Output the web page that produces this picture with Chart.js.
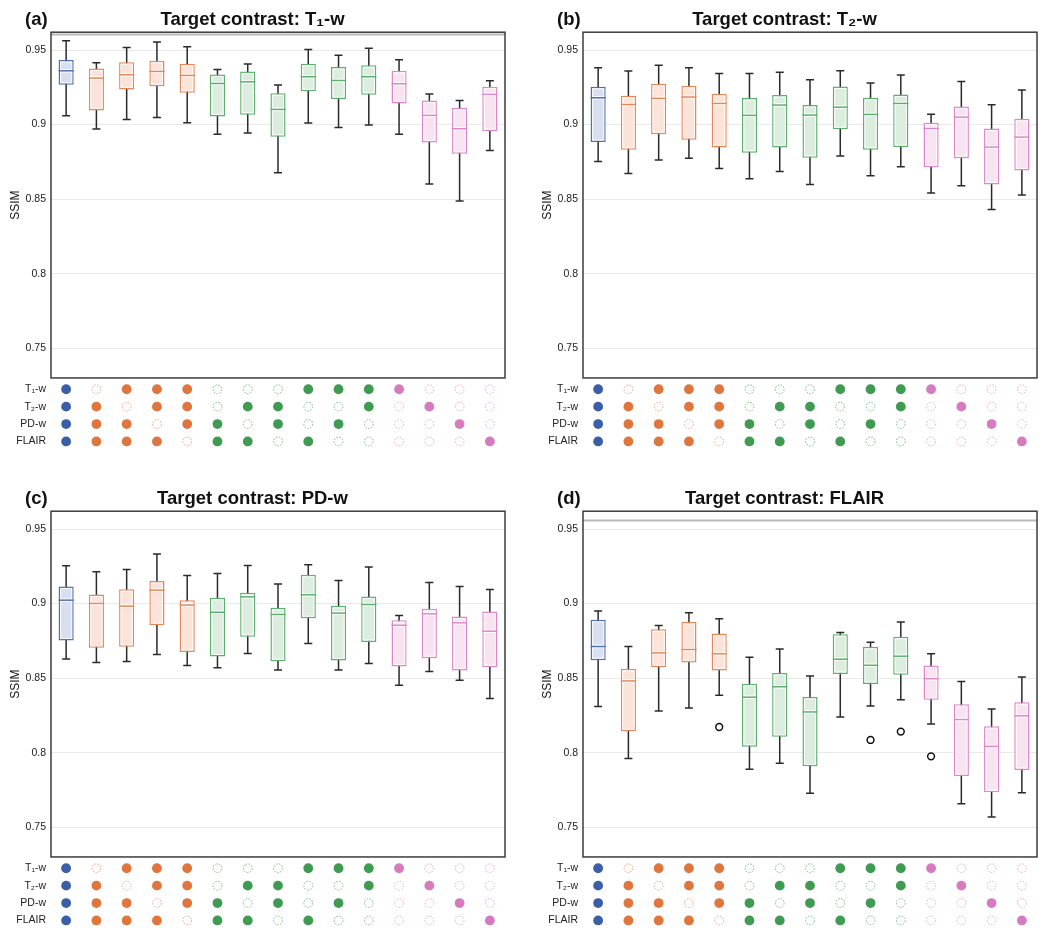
<!DOCTYPE html>
<html>
<head>
<meta charset="UTF-8">
<title>SSIM by target contrast</title>
<script src="https://cdn.jsdelivr.net/npm/chart.js@4.4.1/dist/chart.umd.min.js"></script>
<style>
html, body { margin: 0; padding: 0; background: #fff; overflow: hidden; }
.panel { position: absolute; width: 532px; height: 468px; }
</style>
</head>
<body>
<div class="panel" style="left:0;top:0"><canvas id="pa" width="532" height="468"></canvas></div>
<div class="panel" style="left:532px;top:0"><canvas id="pb" width="532" height="468"></canvas></div>
<div class="panel" style="left:0;top:479px"><canvas id="pc" width="532" height="468"></canvas></div>
<div class="panel" style="left:532px;top:479px"><canvas id="pd" width="532" height="468"></canvas></div>
<script>
// 15 input combinations, one box each
var combos = ['1','2','3','4','5','6','7','8','9','10','11','12','13','14','15'];
var group = ['blue','orange','orange','orange','orange','green','green','green','green','green','green','pink','pink','pink','pink'];

// which contrasts are available (1) / missing (0) for each combination
var rowLabels = ['T\u2081-w', 'T\u2082-w', 'PD-w', 'FLAIR'];
var rowT1    = [1,0,1,1,1,0,0,0,1,1,1,1,0,0,0];
var rowT2    = [1,1,0,1,1,0,1,1,0,0,1,0,1,0,0];
var rowPD    = [1,1,1,0,1,1,0,1,0,1,0,0,0,1,0];
var rowFLAIR = [1,1,1,1,0,1,1,0,1,0,0,0,0,0,1];

var yTicks = [0.75, 0.8, 0.85, 0.9, 0.95];
var yTickLabels = ['0.75', '0.8', '0.85', '0.9', '0.95'];

// (a) target T1-w
var aLow  = [0.9060,0.8970,0.9035,0.9048,0.9012,0.8936,0.8943,0.8677,0.9010,0.8981,0.8997,0.8936,0.8601,0.8487,0.8827];
var aQ1   = [0.9267,0.9095,0.9236,0.9258,0.9214,0.9055,0.9066,0.8918,0.9223,0.9171,0.9200,0.9142,0.8880,0.8804,0.8956];
var aMed  = [0.9361,0.9312,0.9334,0.9357,0.9330,0.9276,0.9287,0.9102,0.9321,0.9296,0.9321,0.9274,0.9062,0.8972,0.9203];
var aQ3   = [0.9433,0.9377,0.9419,0.9428,0.9408,0.9337,0.9357,0.9211,0.9408,0.9386,0.9399,0.9361,0.9162,0.9113,0.9254];
var aHigh = [0.9563,0.9415,0.9518,0.9554,0.9522,0.9370,0.9406,0.9265,0.9504,0.9466,0.9513,0.9435,0.9205,0.9162,0.9294];

// (b) target T2-w
var bLow  = [0.8753,0.8672,0.8762,0.8775,0.8706,0.8637,0.8686,0.8598,0.8789,0.8657,0.8717,0.8541,0.8590,0.8431,0.8527];
var bQ1   = [0.8883,0.8831,0.8936,0.8898,0.8847,0.8811,0.8847,0.8777,0.8968,0.8831,0.8849,0.8713,0.8775,0.8598,0.8692];
var bMed  = [0.9180,0.9135,0.9176,0.9185,0.9142,0.9062,0.9131,0.9064,0.9117,0.9068,0.9142,0.8974,0.9050,0.8849,0.8916];
var bQ3   = [0.9254,0.9194,0.9274,0.9261,0.9207,0.9178,0.9198,0.9131,0.9256,0.9180,0.9202,0.9012,0.9122,0.8974,0.9039];
var bHigh = [0.9381,0.9359,0.9399,0.9381,0.9343,0.9343,0.9352,0.9301,0.9361,0.9279,0.9332,0.9070,0.9290,0.9133,0.9232];

// (c) target PD-w
var cLow  = [0.8629,0.8604,0.8611,0.8658,0.8584,0.8569,0.8665,0.8555,0.8732,0.8555,0.8598,0.8452,0.8544,0.8486,0.8363];
var cQ1   = [0.8752,0.8703,0.8710,0.8855,0.8676,0.8645,0.8777,0.8613,0.8902,0.8618,0.8743,0.8578,0.8634,0.8551,0.8573];
var cMed  = [0.9023,0.9001,0.8983,0.9090,0.8990,0.8942,0.9045,0.8927,0.9059,0.8936,0.8994,0.8855,0.8931,0.8871,0.8815];
var cQ3   = [0.9115,0.9061,0.9097,0.9151,0.9023,0.9039,0.9072,0.8972,0.9193,0.8985,0.9048,0.8889,0.8965,0.8913,0.8947];
var cHigh = [0.9254,0.9213,0.9229,0.9332,0.9189,0.9202,0.9256,0.9131,0.9260,0.9155,0.9245,0.8920,0.9142,0.9115,0.9095];

// (d) target FLAIR
var dLow  = [0.8309,0.7960,0.8280,0.8300,0.8385,0.7888,0.7929,0.7727,0.8239,0.8313,0.8354,0.8192,0.7657,0.7568,0.7731];
var dQ1   = [0.8620,0.8143,0.8573,0.8604,0.8551,0.8040,0.8106,0.7908,0.8528,0.8461,0.8522,0.8354,0.7843,0.7734,0.7884];
var dMed  = [0.8712,0.8481,0.8669,0.8692,0.8663,0.8372,0.8442,0.8273,0.8627,0.8586,0.8647,0.8496,0.8222,0.8042,0.8247];
var dQ3   = [0.8891,0.8562,0.8828,0.8877,0.8799,0.8463,0.8535,0.8374,0.8795,0.8710,0.8777,0.8585,0.8325,0.8177,0.8338];
var dHigh = [0.8951,0.8712,0.8853,0.8938,0.8898,0.8640,0.8696,0.8515,0.8806,0.8741,0.8877,0.8663,0.8477,0.8293,0.8508];
var dOut  = [null,null,null,null,0.8172,null,null,null,null,0.8085,0.8141,0.7975,null,null,null];

// grey reference line near the top (only a and d)
var refLines = [0.9605, null, null, 0.9558];

var colors = {
	blue:   {border:'#4f6fb2', fill:'#d9dfee', dot:'#3b5fa7', open:'#7f96c7'},
	orange: {border:'#e6875a', fill:'#fae3d8', dot:'#df763e', open:'#eba27f'},
	green:  {border:'#5caf6d', fill:'#dcede0', dot:'#3f9b51', open:'#78bb86'},
	pink:   {border:'#de86c8', fill:'#f8e4f1', dot:'#d67bc0', open:'#e6a9d6'}
};
var font = '"Liberation Sans", Helvetica, Arial, sans-serif';

function makeBoxes(p){
	return {
		id: 'boxes',
		beforeDatasetsDraw: function(chart){
			var ctx = chart.ctx, x = chart.scales.x, y = chart.scales.y, area = chart.chartArea;
			ctx.save();
			if(p.ref != null){
				var ry = y.getPixelForValue(p.ref);
				ctx.strokeStyle = '#b9b9b9'; ctx.lineWidth = 2;
				ctx.beginPath(); ctx.moveTo(area.left, ry); ctx.lineTo(area.right, ry); ctx.stroke();
			}
			//whiskers
			ctx.strokeStyle = '#2a2a2a'; ctx.lineWidth = 1.5;
			for(var i=0;i<combos.length;i++){
				var cx = x.getPixelForValue(i);
				var yl = y.getPixelForValue(p.low[i]), yh = y.getPixelForValue(p.high[i]);
				ctx.beginPath();
				ctx.moveTo(cx, yh); ctx.lineTo(cx, yl);
				ctx.moveTo(cx-4, yh); ctx.lineTo(cx+4, yh);
				ctx.moveTo(cx-4, yl); ctx.lineTo(cx+4, yl);
				ctx.stroke();
			}
			ctx.restore();
		},
		afterDatasetsDraw: function(chart){
			var ctx = chart.ctx, x = chart.scales.x, y = chart.scales.y, yd = chart.scales.yDots, area = chart.chartArea;
			var bars = chart.getDatasetMeta(0).data;
			ctx.save();
			for(var i=0;i<bars.length;i++){
				var el = bars[i], c = colors[group[i]];
				var half = el.width/2, top = Math.min(el.y, el.base), bot = Math.max(el.y, el.base);
				ctx.strokeStyle = 'rgba(255,255,255,0.85)'; ctx.lineWidth = 1;
				ctx.strokeRect(el.x-half+2, top+2, el.width-4, bot-top-4);
				var my = y.getPixelForValue(p.med[i]);
				ctx.strokeStyle = '#fff'; ctx.lineWidth = 3.5;
				ctx.beginPath(); ctx.moveTo(el.x-half+1.5, my); ctx.lineTo(el.x+half-1.5, my); ctx.stroke();
				ctx.strokeStyle = c.border; ctx.lineWidth = 1.5;
				ctx.beginPath(); ctx.moveTo(el.x-half, my); ctx.lineTo(el.x+half, my); ctx.stroke();
				if(p.out && p.out[i] != null){
					ctx.strokeStyle = '#111'; ctx.lineWidth = 1.5; ctx.fillStyle = '#fff';
					ctx.beginPath(); ctx.arc(el.x, y.getPixelForValue(p.out[i]), 3.4, 0, Math.PI*2); ctx.fill(); ctx.stroke();
				}
			}
			//frame
			ctx.strokeStyle = '#3c3c3c'; ctx.lineWidth = 1.5;
			ctx.strokeRect(area.left, y.top, area.right-area.left, y.bottom-y.top);
			//availability dots
			var rows = [rowT1, rowT2, rowPD, rowFLAIR];
			for(var r=0;r<rows.length;r++){
				var cy = yd.getPixelForValue(r);
				for(var k=0;k<combos.length;k++){
					var cc = colors[group[k]], px = x.getPixelForValue(k);
					ctx.beginPath();
					if(rows[r][k]){
						ctx.setLineDash([]);
						ctx.fillStyle = cc.dot;
						ctx.arc(px, cy, 4.9, 0, Math.PI*2); ctx.fill();
					}else{
						ctx.setLineDash([1.6,1.4]);
						ctx.strokeStyle = cc.open; ctx.lineWidth = 1;
						ctx.arc(px, cy, 4.4, 0, Math.PI*2); ctx.stroke();
					}
				}
			}
			ctx.setLineDash([]);
			ctx.restore();
		},
		afterDraw: function(chart){
			var ctx = chart.ctx;
			ctx.save();
			ctx.font = 'bold 18.5px ' + font;
			ctx.fillStyle = '#111'; ctx.textBaseline = 'middle'; ctx.textAlign = 'left';
			ctx.fillText(p.letter, 25, 20);
			ctx.restore();
		}
	};
}

function drawPanel(id, p){
	var fills = [], borders = [], boxes = [];
	for(var i=0;i<combos.length;i++){
		fills.push(colors[group[i]].fill);
		borders.push(colors[group[i]].border);
		boxes.push([p.q1[i], p.q3[i]]);
	}
	var ctx = document.getElementById(id).getContext('2d');
	return new Chart(ctx, {
		type: 'bar',
		data: {
			labels: combos,
			datasets: [{
				data: boxes,
				backgroundColor: fills,
				borderColor: borders,
				borderWidth: 1.5,
				borderSkipped: false,
				barPercentage: 0.5,
				categoryPercentage: 1.0,
				yAxisID: 'y'
			}]
		},
		options: {
			responsive: false,
			animation: false,
			layout: {padding: {left: 0, right: 27, top: 0, bottom: 17}},
			plugins: {
				legend: {display: false},
				tooltip: {enabled: false},
				title: {
					display: true, text: p.title, color: '#111',
					font: {family: font, size: 18.5, weight: 'bold'},
					padding: {top: 9, bottom: 1}
				}
			},
			scales: {
				x: {type: 'category', display: false, offset: true},
				y: {
					type: 'linear', position: 'left', stack: 'panel', stackWeight: 345.5, weight: 2,
					min: 0.73, max: 0.962,
					afterBuildTicks: function(s){ s.ticks = yTicks.map(function(v){ return {value: v}; }); },
					afterFit: function(s){ s.width = 51; },
					ticks: {
						color: '#222', padding: 5, autoSkip: false, font: {family: font, size: 10.5},
						callback: function(v, i){ return yTickLabels[i]; }
					},
					grid: {color: '#e9e9e9', lineWidth: 1, drawTicks: false},
					border: {display: false},
					title: {display: true, text: 'SSIM', color: '#111', font: {family: font, size: 12}, padding: {top: 8, bottom: 0}}
				},
				yDots: {
					type: 'linear', position: 'left', stack: 'panel', stackWeight: 73, weight: 1,
					reverse: true, min: -0.65, max: 3.55,
					afterBuildTicks: function(s){ s.ticks = [0,1,2,3].map(function(v){ return {value: v}; }); },
					afterFit: function(s){ s.width = 51; },
					ticks: {
						color: '#222', padding: 5, autoSkip: false, font: {family: font, size: 10.5},
						callback: function(v){ return rowLabels[v]; }
					},
					grid: {display: false, drawTicks: false},
					border: {display: false}
				}
			}
		},
		plugins: [makeBoxes(p)]
	});
}

drawPanel('pa', {letter:'(a)', title:'Target contrast: T\u2081-w', low:aLow, q1:aQ1, med:aMed, q3:aQ3, high:aHigh, ref:refLines[0]});
drawPanel('pb', {letter:'(b)', title:'Target contrast: T\u2082-w', low:bLow, q1:bQ1, med:bMed, q3:bQ3, high:bHigh, ref:refLines[1]});
drawPanel('pc', {letter:'(c)', title:'Target contrast: PD-w', low:cLow, q1:cQ1, med:cMed, q3:cQ3, high:cHigh, ref:refLines[2]});
drawPanel('pd', {letter:'(d)', title:'Target contrast: FLAIR', low:dLow, q1:dQ1, med:dMed, q3:dQ3, high:dHigh, out:dOut, ref:refLines[3]});
</script>
</body>
</html>
